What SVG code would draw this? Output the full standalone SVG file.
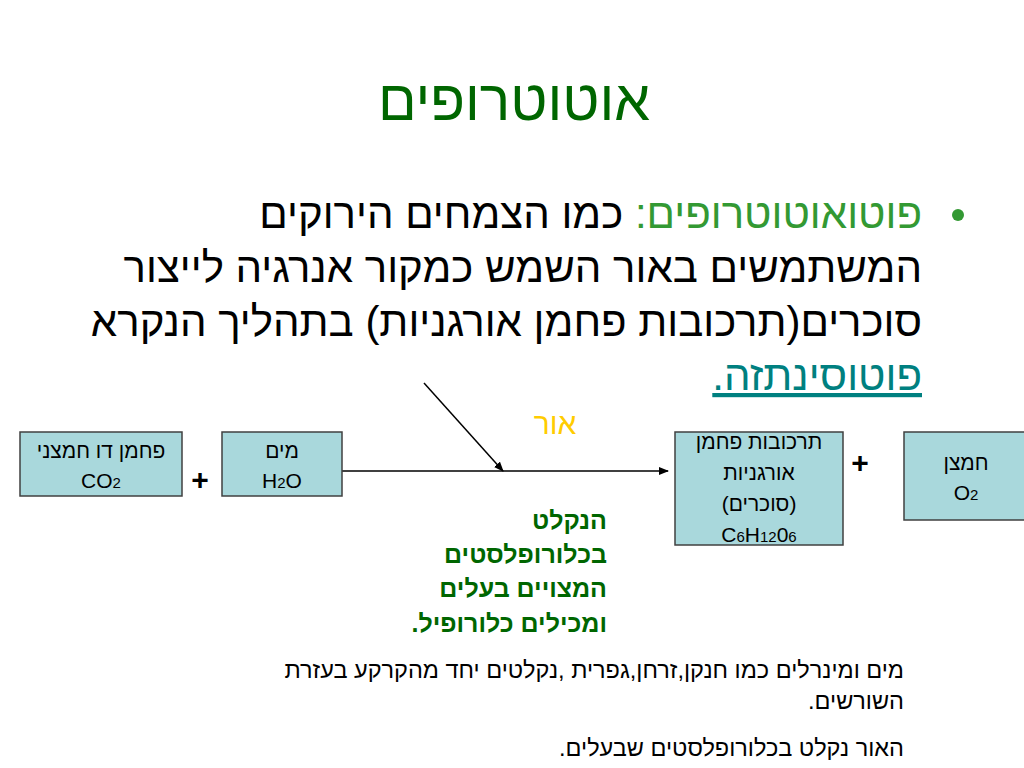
<svg xmlns="http://www.w3.org/2000/svg" width="1024" height="768" viewBox="0 0 1024 768">
<style>
text{font-family:"Liberation Sans","Noto Sans",sans-serif}
.rtl{direction:rtl;text-anchor:start}
.box{fill:#a9d8dc;stroke:#404040;stroke-width:1.5}
.bl{font-size:21px;fill:#000;text-anchor:middle}
.big{font-size:42px;fill:#000}
.g{font-size:25px;font-weight:bold;fill:#006600}
.s{font-size:23.5px;fill:#000}
</style>
<defs><marker id="ah" markerWidth="10" markerHeight="8" refX="9" refY="4" orient="auto" markerUnits="userSpaceOnUse"><path d="M0,0L10,4L0,8z" fill="#000"/></marker></defs>
<rect width="1024" height="768" fill="#fff"/>
<text x="514" y="120" font-size="57" fill="#006600" text-anchor="middle">אוטוטרופים</text>
<circle cx="958" cy="215" r="6" fill="#339933"/>
<text class="rtl big" x="922" y="228"><tspan style="fill:#339933">פוטואוטוטרופים:</tspan> כמו הצמחים הירוקים</text>
<text class="rtl big" x="922" y="282">המשתמשים באור השמש כמקור אנרגיה לייצור</text>
<text class="rtl big" x="922" y="336">סוכרים(תרכובות פחמן אורגניות) בתהליך הנקרא</text>
<text class="rtl big" x="922" y="390" style="fill:#008080" text-decoration="underline">פוטוסינתזה.</text>
<g id="connectors" stroke="#000" stroke-width="1.5" fill="none">
<line x1="342" y1="471" x2="668" y2="471" marker-end="url(#ah)"/>
<line x1="424" y1="383" x2="503" y2="471" marker-end="url(#ah)"/>
</g>
<g id="co2"><rect class="box" x="20" y="432" width="162" height="64"/><text class="bl" x="101" y="458">פחמן דו חמצני</text><text class="bl" x="101" y="488">CO<tspan font-size="15">2</tspan></text></g>
<text x="200" y="490" font-size="30" font-weight="bold" text-anchor="middle">+</text>
<g id="h2o"><rect class="box" x="222" y="432" width="120" height="64"/><text class="bl" x="282" y="458">מים</text><text class="bl" x="282" y="488">H<tspan font-size="15">2</tspan>O</text></g>
<text x="555" y="434" font-size="30" fill="#ffcc00" text-anchor="middle">אור</text>
<g id="sugar"><rect class="box" x="675" y="432" width="168" height="113"/><text class="bl" x="759" y="449">תרכובות פחמן</text><text class="bl" x="759" y="480">אורגניות</text><text class="bl" x="759" y="511">(סוכרים)</text><text class="bl" x="759" y="542">C<tspan font-size="15">6</tspan>H<tspan font-size="15">12</tspan>0<tspan font-size="15">6</tspan></text></g>
<text x="860" y="473" font-size="30" font-weight="bold" text-anchor="middle">+</text>
<g id="o2"><rect class="box" x="904" y="432" width="125" height="88"/><text class="bl" x="966" y="470">חמצן</text><text class="bl" x="966" y="500">O<tspan font-size="15">2</tspan></text></g>
<text class="rtl g" x="607" y="529">הנקלט</text>
<text class="rtl g" x="607" y="563">בכלורופלסטים</text>
<text class="rtl g" x="607" y="597">המצויים בעלים</text>
<text class="rtl g" x="607" y="632">ומכילים כלורופיל.</text>
<text class="rtl s" x="904" y="678">מים ומינרלים כמו חנקן,זרחן,גפרית ,נקלטים יחד מהקרקע בעזרת</text>
<text class="rtl s" x="904" y="709">השורשים.</text>
<text class="rtl s" x="904" y="756">האור נקלט בכלורופלסטים שבעלים.</text>
</svg>
